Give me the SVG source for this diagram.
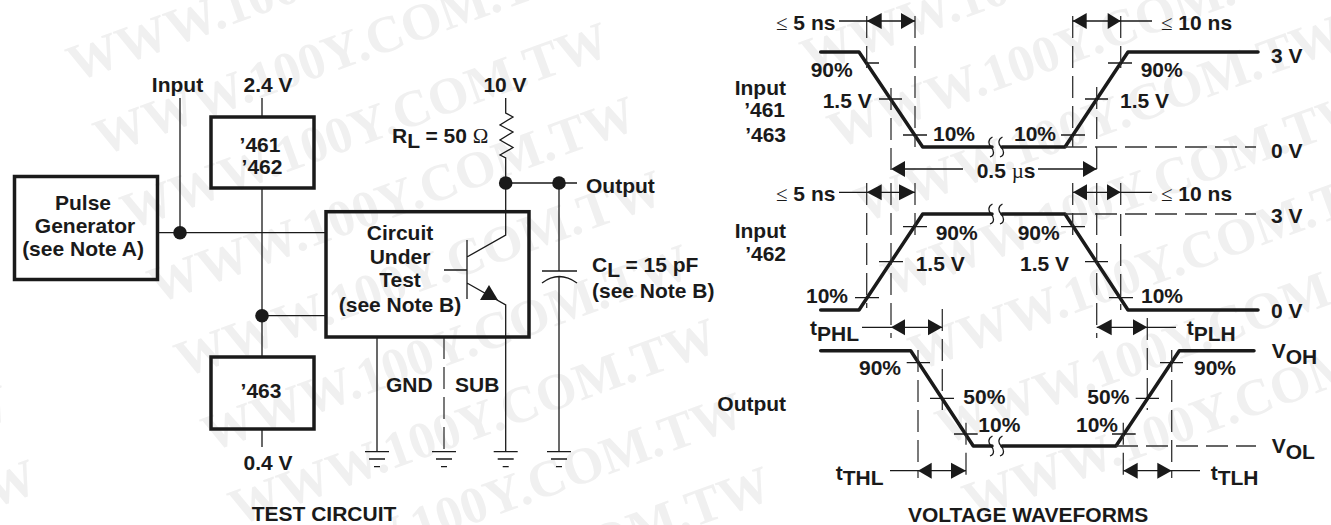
<svg xmlns="http://www.w3.org/2000/svg" width="1331" height="525" viewBox="0 0 1331 525">
<style>
text{font-family:"Liberation Sans",Arial,sans-serif;font-weight:700;font-size:21px;fill:#1a1a1a}
.c{text-anchor:middle}.e{text-anchor:end}
.s{font-family:"Liberation Serif",serif;font-weight:400}
.wm{font-family:"Liberation Serif",serif;font-weight:700;font-size:52px;fill:#f0f0f0}
.box{fill:none;stroke:#1a1a1a;stroke-width:3.5}
.w{fill:none;stroke:#1a1a1a;stroke-width:1.3}
.dash{fill:none;stroke:#333;stroke-width:1.3;stroke-dasharray:22 8}
.th{fill:none;stroke:#1a1a1a;stroke-width:3.5;stroke-linecap:round;stroke-linejoin:round}
.dot,.ah{fill:#1a1a1a}
</style>
<g id="watermark">
<text class="wm" transform="translate(75,82) rotate(-20)">WWW.100Y.COM.TW</text>
<text class="wm" transform="translate(102,156) rotate(-20)">WWW.100Y.COM.TW</text>
<text class="wm" transform="translate(129,230) rotate(-20)">WWW.100Y.COM.TW</text>
<text class="wm" transform="translate(156,304) rotate(-20)">WWW.100Y.COM.TW</text>
<text class="wm" transform="translate(183,378) rotate(-20)">WWW.100Y.COM.TW</text>
<text class="wm" transform="translate(210,452) rotate(-20)">WWW.100Y.COM.TW</text>
<text class="wm" transform="translate(237,526) rotate(-20)">WWW.100Y.COM.TW</text>
<text class="wm" transform="translate(264,600) rotate(-20)">WWW.100Y.COM.TW</text>
<text class="wm" transform="translate(291,674) rotate(-20)">WWW.100Y.COM.TW</text>
<text class="wm" transform="translate(-470,593) rotate(-20)">WWW.100Y.COM.TW</text>
<text class="wm" transform="translate(-443,667) rotate(-20)">WWW.100Y.COM.TW</text>
<text class="wm" transform="translate(809,75) rotate(-20)">WWW.100Y.COM.TW</text>
<text class="wm" transform="translate(836,149) rotate(-20)">WWW.100Y.COM.TW</text>
<text class="wm" transform="translate(863,223) rotate(-20)">WWW.100Y.COM.TW</text>
<text class="wm" transform="translate(890,297) rotate(-20)">WWW.100Y.COM.TW</text>
<text class="wm" transform="translate(917,371) rotate(-20)">WWW.100Y.COM.TW</text>
<text class="wm" transform="translate(944,445) rotate(-20)">WWW.100Y.COM.TW</text>
<text class="wm" transform="translate(971,519) rotate(-20)">WWW.100Y.COM.TW</text>
</g>
<g id="connectors">
<path class="w" d="M180 98V232.7M157 232.7H326M262 98V117M262 188V356.7M262 315.7H326M262 429V447"/>
<path class="w" d="M505.7 98V113L513 117 500 125 513 132 500 140 513 147.5 500 155 505.7 158V235L467 257M467 240V299M444 270H467M467 283L505.7 305V451.7"/>
<path class="w" d="M505.7 183H577M559 183V271M542 271H577M542 283Q559 270 577 283M559 277V451.7M377 337V451.7"/>
<path class="dash" d="M444 337V451.7"/>
<path class="w" d="M365 451.7H389M369 459H385M374 466.7H380M432 451.7H456M436 459H452M441 466.7H447M493.700 451.7H517.700M497.700 459H513.700M502.700 466.7H508.700M547 451.7H571M551 459H567M556 466.7H562"/>
<circle class="dot" cx="180" cy="232.700" r="6.800"/>
<circle class="dot" cx="262" cy="315.700" r="6.800"/>
<circle class="dot" cx="505.700" cy="183" r="6.800"/>
<circle class="dot" cx="559" cy="183" r="6.800"/>
<polygon class="ah" points="489,285 480,300 498,300"/>
</g>
<g id="pulse-generator">
<rect class="box" x="14.500" y="176.500" width="143" height="103"/>
<text class="c" x="83" y="210">Pulse</text><text class="c" x="85" y="233">Generator</text><text class="c" x="83" y="256">(see Note A)</text>
</g>
<g id="device-461-462">
<rect class="box" x="211" y="117" width="103" height="71"/>
<text class="c" x="260" y="151.700">’461</text><text class="c" x="262" y="174">’462</text>
</g>
<g id="device-463">
<rect class="box" x="211" y="357" width="103" height="72"/>
<text class="c" x="261" y="398">’463</text>
</g>
<g id="circuit-under-test">
<rect class="box" x="326" y="211.700" width="203" height="125.300"/>
<text class="c" x="400" y="240">Circuit</text><text class="c" x="400" y="264">Under</text><text class="c" x="400" y="287">Test</text><text class="c" x="400" y="311.700">(see Note B)</text>
</g>
<g id="circuit-labels">
<text class="c" x="177.500" y="92">Input</text><text class="c" x="268" y="92">2.4 V</text><text class="c" x="505" y="92">10 V</text>
<text x="392" y="143">R<tspan dy="5">L</tspan><tspan dy="-5"> = 50 </tspan><tspan class="s">Ω</tspan></text>
<text x="586" y="193">Output</text>
<text x="592" y="272">C<tspan dy="5">L</tspan><tspan dy="-5"> = 15 pF</tspan></text><text x="592" y="298">(see Note B)</text>
<text x="386" y="391.700">GND</text><text x="455" y="391.700">SUB</text><text class="c" x="268" y="470">0.4 V</text>
<text x="251.700" y="521">TEST CIRCUIT</text>
</g>
<g id="waveform-input-461-463">
<path class="th" d="M820.700 52H859L922.700 147H992M1002 147H1065L1128 52H1258"/>
<path class="dash" d="M866.700 16V73M915 16V147M891 88V175M1072.700 16V147M1096.700 87V175M1120.700 16V75M1065 147H1256"/>
<path class="w" d="M865 63H879M879 99H902M903 135H927M1061 135H1085M1085 99H1108M1108 63H1132M992.500 137C988 139 988 144 991 147S995 155 990 157M1002.500 137C998 139 998 144 1001 147S1005 155 1000 157"/>
<path class="w" d="M839 21H915M1072.700 21H1152M905 169H963M1038 169H1096.700"/>
<polygon class="ah" points="866.700,21 881.700,13 881.700,29"/><polygon class="ah" points="915,21 901,13 901,29"/>
<polygon class="ah" points="1072.700,21 1086.700,13 1086.700,29"/><polygon class="ah" points="1120.700,21 1107.700,13 1107.700,29"/>
<polygon class="ah" points="891,169 905,161 905,177"/><polygon class="ah" points="1096.700,169 1083,161 1083,177"/>
<text x="776" y="30"><tspan class="s">≤</tspan> 5 ns</text><text x="1161" y="30"><tspan class="s">≤</tspan> 10 ns</text>
<text x="810.700" y="77">90%</text><text x="822.700" y="107.700">1.5 V</text>
<text class="e" x="786" y="95">Input</text><text class="e" x="785" y="117">’461</text><text class="e" x="786" y="141.700">’463</text>
<text x="933" y="141">10%</text><text x="1014" y="141">10%</text><text x="1140.700" y="77">90%</text><text x="1120" y="107.700">1.5 V</text>
<text x="1271" y="62.700">3 V</text><text x="1271" y="158">0 V</text>
<text x="976.700" y="178">0.5 <tspan class="s">µ</tspan>s</text>
</g>
<g id="waveform-input-462">
<path class="th" d="M820.700 310H859L922.700 214H992M1002 214H1065L1128 310H1258"/>
<path class="dash" d="M866.700 183V308M891 183V338M915 183V238M1072.700 183V238M1096.700 183V338M1120.700 214V310M1065 214H1256M942.300 309V410M1147.300 318V410M1120.700 183V205"/>
<path class="w" d="M855 297.700H879M879 261.700H903M903 226.700H927M1061 226.700H1085M1085 261.700H1108M1109 297.700H1133M992.500 204C988 206 988 211 991 214S995 222 990 224M1002.500 204C998 206 998 211 1001 214S1005 222 1000 224"/>
<path class="w" d="M839 192.300H915M1073 192.300H1152M862 327.300H942.300M1096.700 327.300H1176"/>
<polygon class="ah" points="866.700,192.300 881.700,184.300 881.700,200.300"/><polygon class="ah" points="915,192.300 899,184.300 899,200.300"/>
<polygon class="ah" points="1073,192.300 1087,184.300 1087,200.300"/><polygon class="ah" points="1120.700,192.300 1107,184.300 1107,200.300"/>
<polygon class="ah" points="891,327.300 905,319.300 905,335.300"/><polygon class="ah" points="942.300,327.300 928,319.300 928,335.300"/>
<polygon class="ah" points="1096.700,327.300 1111.700,319.300 1111.700,335.300"/><polygon class="ah" points="1147.300,327.300 1133,319.300 1133,335.300"/>
<text x="776" y="201"><tspan class="s">≤</tspan> 5 ns</text><text x="1161" y="201"><tspan class="s">≤</tspan> 10 ns</text>
<text class="e" x="786" y="237.700">Input</text><text class="e" x="786" y="260.700">’462</text>
<text x="806" y="303">10%</text><text x="935.700" y="240">90%</text><text x="915.700" y="271">1.5 V</text>
<text x="1017.700" y="240">90%</text><text x="1020" y="271">1.5 V</text><text x="1141" y="303">10%</text>
<text x="1271" y="223">3 V</text><text x="1271" y="318">0 V</text>
<text x="810" y="335">t<tspan dy="6">PHL</tspan></text><text x="1186.700" y="335">t<tspan dy="6">PLH</tspan></text>
</g>
<g id="waveform-output">
<path class="th" d="M820.700 350.700H910.700L973.300 446H992M1002 446H1116L1179.300 350.700H1254"/>
<path class="dash" d="M918 350V478M966 422.700V478M1123.300 422.700V478M1171.700 350V478M1116 446H1256"/>
<path class="w" d="M906.700 362.700H930M930 398.300H954M954 434H977.700M1112 434H1135.700M1135.700 398.300H1159M1160 362.700H1183M992.500 436C988 438 988 443 991 446S995 454 990 456M1002.500 436C998 438 998 443 1001 446S1005 454 1000 456"/>
<path class="w" d="M890 470.700H966M1123.300 470.700H1200"/>
<polygon class="ah" points="918,470.700 931.700,462.700 931.700,478.700"/><polygon class="ah" points="966,470.700 951,462.700 951,478.700"/>
<polygon class="ah" points="1123.300,470.700 1137.700,462.700 1137.700,478.700"/><polygon class="ah" points="1171.700,470.700 1157.300,462.700 1157.300,478.700"/>
<text x="859" y="375">90%</text><text x="963.300" y="404">50%</text><text x="978.300" y="431.700">10%</text>
<text x="1087.300" y="404">50%</text><text x="1076" y="431.700">10%</text><text x="1194" y="375">90%</text>
<text x="717.300" y="410.700">Output</text>
<text x="1271.700" y="358">V<tspan dy="6">OH</tspan></text><text x="1271.700" y="453">V<tspan dy="6">OL</tspan></text>
<text x="835.700" y="480">t<tspan dy="4.500">THL</tspan></text><text x="1210.700" y="480">t<tspan dy="4.500">TLH</tspan></text>
<text x="908" y="522">VOLTAGE WAVEFORMS</text>
</g>
</svg>
